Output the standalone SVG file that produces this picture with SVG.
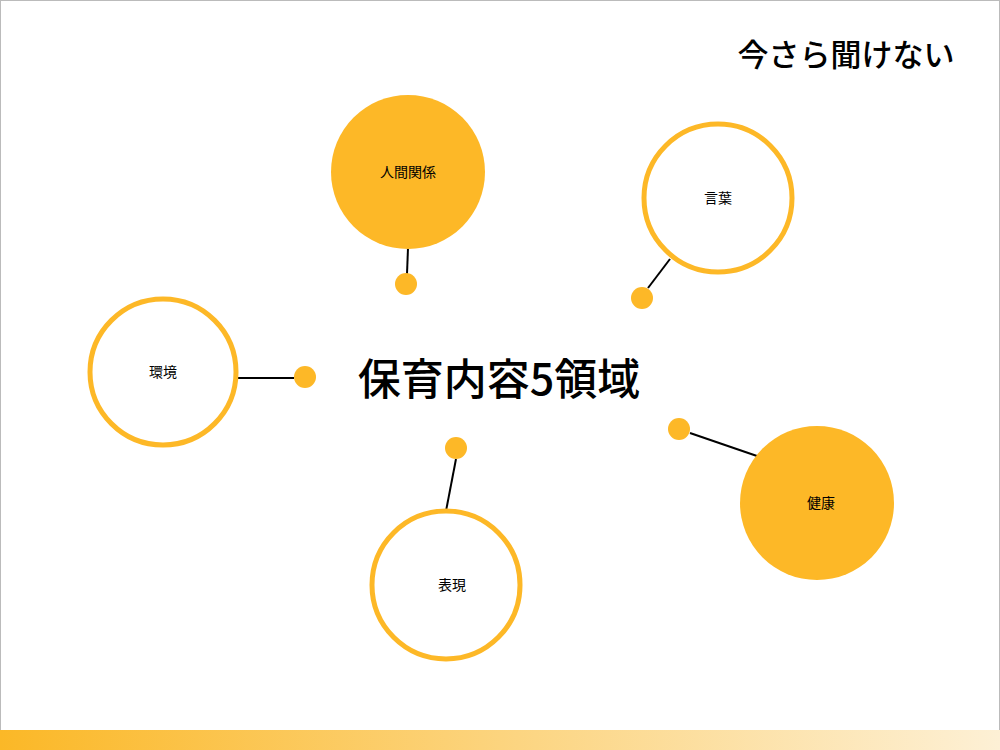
<svg xmlns="http://www.w3.org/2000/svg" width="1000" height="750" viewBox="0 0 1000 750">
<defs>
<linearGradient id="g" x1="0" x2="1" y1="0" y2="0"><stop offset="0" stop-color="#fbb827"/><stop offset="1" stop-color="#fdf0d5"/></linearGradient>
<style>
.f{fill:#fdb827}.o{fill:#fff;stroke:#fdb827;stroke-width:5}.d{fill:#fdb827}
.t{font-family:"Noto Sans CJK JP",sans-serif;font-size:14px;text-anchor:middle;fill:#000}
#connectors line{stroke:#000;stroke-width:2}
</style>
</defs>
<rect x="0.5" y="0.5" width="999" height="749" fill="#fff" stroke="#bbb"/>
<rect x="0" y="730" width="1000" height="20" fill="url(#g)"/>
<text x="846" y="66" font-family="Noto Sans CJK JP,sans-serif" font-size="31" font-weight="500" text-anchor="middle">今さら聞けない</text>
<text x="499" y="395" font-family="Noto Sans CJK JP,sans-serif" font-size="43" font-weight="500" text-anchor="middle">保育内容5領域</text>
<g id="connectors">
<line x1="408" y1="248" x2="407" y2="274"/>
<line x1="670" y1="259" x2="648" y2="288"/>
<line x1="238" y1="378" x2="294" y2="378"/>
<line x1="456" y1="459" x2="446" y2="511"/>
<line x1="690" y1="433" x2="757" y2="456"/>
<circle class="d" cx="406" cy="284" r="11"/>
<circle class="d" cx="642" cy="298" r="11"/>
<circle class="d" cx="305" cy="377" r="11"/>
<circle class="d" cx="456" cy="448" r="11"/>
<circle class="d" cx="679" cy="429" r="11"/>
</g>
<g id="n1"><circle class="f" cx="408" cy="172" r="77"/><text class="t" x="408" y="177">人間関係</text></g>
<g id="n2"><circle class="o" cx="718" cy="198" r="74"/><text class="t" x="718" y="203">言葉</text></g>
<g id="n3"><circle class="o" cx="163" cy="372" r="73"/><text class="t" x="163" y="377">環境</text></g>
<g id="n4"><circle class="f" cx="817" cy="503" r="77"/><text class="t" x="821" y="508">健康</text></g>
<g id="n5"><circle class="o" cx="446" cy="585" r="74"/><text class="t" x="452" y="590">表現</text></g>
</svg>
